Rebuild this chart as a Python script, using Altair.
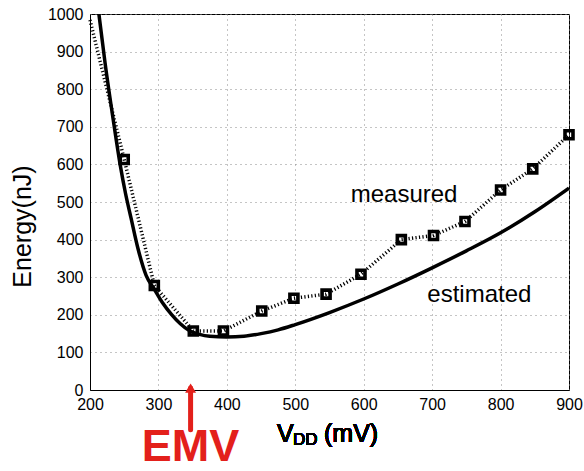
import altair as alt
import pandas as pd

# Measured energy (dotted line with square markers)
meas_v = [200, 250, 294, 351, 395, 451, 498, 545, 596, 655, 702, 748, 800, 847, 900]
meas_e = [984, 613, 278, 157, 157, 210, 244, 255, 308, 400, 411, 448, 532, 588, 679]
meas_marker = [False, True, True, True, True, True, True, True, True, True, True, True, True, True, True]

# Estimated energy (solid line)
est_v = [213, 222, 234, 244, 252, 260, 270, 282, 294, 306, 319, 332, 345, 360, 375, 400,
         425, 450, 475, 500, 550, 600, 650, 700, 750, 800, 850, 900]
est_e = [1000, 870, 718, 600, 522, 457, 377, 305, 268, 232, 201, 176, 158, 148, 143, 141,
         143, 150, 160, 174, 206, 242, 282, 325, 370, 418, 474, 537]

# Annotations
lab_text = ["measured", "estimated"]
lab_v = [581, 693]
lab_e = [501, 235]

emv_v = [347]
emv_top = [5]
emv_bottom = [-106]
emv_text_e = [-212]

x_ticks = [200, 300, 400, 500, 600, 700, 800, 900]
y_ticks = [0, 100, 200, 300, 400, 500, 600, 700, 800, 900, 1000]

FONT = "Liberation Sans"

meas = pd.DataFrame({"v": meas_v, "e": meas_e, "marker": meas_marker})
est = pd.DataFrame({"v": est_v, "e": est_e})
labs = pd.DataFrame({"v": lab_v, "e": lab_e, "t": lab_text})
emv = pd.DataFrame({"v": emv_v, "top": emv_top, "bottom": emv_bottom, "te": emv_text_e})

xs = alt.Scale(domain=[200, 900], nice=False, zero=False)
ys = alt.Scale(domain=[0, 1000], nice=False)

GRID = dict(gridColor="#8a8a8a", gridDash=[1, 4], gridOpacity=1, gridWidth=1)

x_axis = alt.Axis(values=x_ticks, title=None, grid=True, ticks=False, labelFlush=False,
                  labelOverlap=False, format="d",
                  labelFontSize=16, labelFont=FONT, labelColor="black", labelPadding=6,
                  domainColor="black", **GRID)
y_axis = alt.Axis(values=y_ticks, title="Energy(nJ)", grid=True, ticks=False, labelFlush=False,
                  labelOverlap=False, format="d",
                  labelFontSize=16, labelFont=FONT, labelColor="black", labelPadding=7,
                  titleFontSize=25, titleFont=FONT, titleFontWeight="normal", titleColor="black",
                  titleX=-55, titleY=212,
                  domainColor="black", **GRID)


def X(field):
    return alt.X(field, scale=xs, axis=x_axis)


def Y(field):
    return alt.Y(field, scale=ys, axis=y_axis)


est_line = alt.Chart(est).mark_line(color="black", strokeWidth=3.5, interpolate="monotone", clip=True).encode(
    x=X("v:Q"), y=Y("e:Q"))

meas_line = alt.Chart(meas).mark_line(color="black", strokeWidth=3.5, strokeDash=[1.2, 2.3]).encode(
    x=X("v:Q"), y=Y("e:Q"))

meas_pts = alt.Chart(meas).transform_filter("datum.marker").mark_point(
    shape="square", filled=False, size=64, strokeWidth=3.6, color="black", opacity=1).encode(
    x=X("v:Q"), y=Y("e:Q"))

labels = alt.Chart(labs).mark_text(align="left", baseline="alphabetic", fontSize=24, font=FONT,
                                    color="black").encode(
    x=X("v:Q"), y=Y("e:Q"), text="t:N")

RED = "#e3201b"
arrow_shaft = alt.Chart(emv).mark_rule(color=RED, strokeWidth=5, strokeCap="round").encode(
    x=X("v:Q"), y=Y("top:Q"), y2="bottom:Q")
arrow_head = alt.Chart(emv).mark_point(shape="triangle-up", filled=True, size=120, color=RED,
                                       opacity=1).encode(
    x=X("v:Q"), y=Y("top:Q"))
emv_text = alt.Chart(emv).mark_text(text="EMV", align="center", baseline="bottom", fontSize=45,
                                    font=FONT, fontWeight="bold", color=RED).encode(
    x=X("v:Q"), y=Y("te:Q"))

# x-axis title with subscript
t_v = alt.Chart(est).mark_text(text="V", align="left", baseline="alphabetic", fontSize=25,
                                font=FONT, color="black").encode(x=alt.value(187), y=alt.value(428))
t_dd = alt.Chart(est).mark_text(text="DD", align="left", baseline="alphabetic", fontSize=17,
                                 font=FONT, color="black").encode(x=alt.value(203), y=alt.value(431))
t_mv = alt.Chart(est).mark_text(text="(mV)", align="left", baseline="alphabetic", fontSize=25,
                                 font=FONT, color="black").encode(x=alt.value(234), y=alt.value(428))

chart = alt.layer(est_line, meas_line, meas_pts, labels, arrow_shaft, arrow_head, emv_text,
                  t_v, t_dd, t_mv).properties(
    width=479, height=376,
    autosize=alt.AutoSizeParams(type="none"),
    padding={"left": 90, "top": 14, "right": 15, "bottom": 81},
    background="white",
).configure_view(stroke="black", strokeWidth=1)

chart.save("out.html", embed_options={"renderer": "svg", "actions": False})
